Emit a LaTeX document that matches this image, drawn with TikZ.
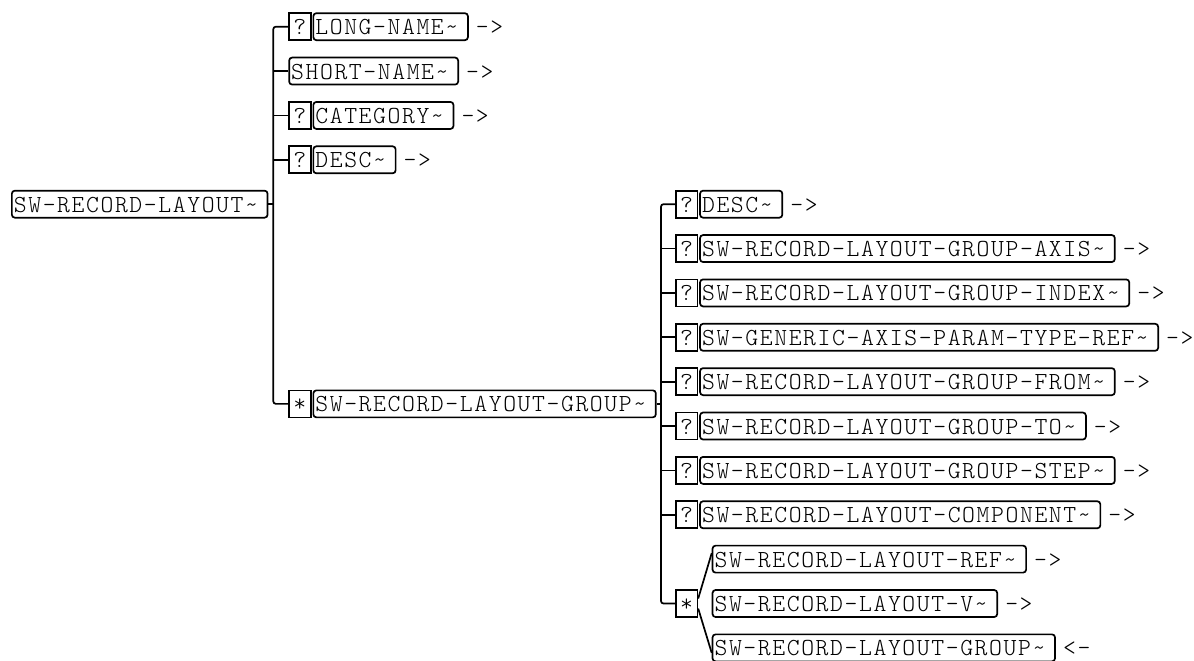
\documentclass[tikz,border=0pt]{standalone}
\usepackage{fontspec}
\newfontfamily\elemfam{lmmonolt10-regular.otf}[LetterSpace=6.5]
\usetikzlibrary{positioning}

\newcommand\elemfont{\elemfam\fontsize{24.5pt}{25pt}\selectfont}
\newcommand\nm[1]{#1\textasciitilde\hspace{7.6pt}\null}

\tikzset{
  elem/.style={draw, line width=1.7pt, rounded corners=3pt, inner xsep=2pt, inner ysep=3pt,
    text height=18.5pt, text depth=2.5pt, font=\elemfont},
  occ/.style={draw, line width=1.7pt, inner sep=0pt, minimum width=21.5pt, minimum height=27pt,
    text height=18.5pt, text depth=2.5pt, font=\elemfont, anchor=west},
  dir/.style={font=\elemfont, inner sep=0pt, text height=18.5pt, text depth=2.5pt},
  bus/.style={line width=1.7pt, rounded corners=2.5pt}
}

\begin{document}
\begin{tikzpicture}[x=1pt, y=-1pt]
\useasboundingbox (0,0) rectangle (1194,661);

% SW-RECORD-LAYOUT and its children
\node[elem, anchor=west] (root) at (11,204.18) {\nm{SW-RECORD-LAYOUT}};

\node[occ] (longq) at (288.3,26.7) {?};
\node[elem, right=1pt of longq] (longname) {\nm{LONG-NAME}};
\node[dir, right=7pt of longname] (longdir) {->};

\node[elem, anchor=west] (shortname) at (288.3,71.07) {\nm{SHORT-NAME}};
\node[dir, right=7pt of shortname] (shortdir) {->};

\node[occ] (catq) at (288.3,115.44) {?};
\node[elem, right=1pt of catq] (category) {\nm{CATEGORY}};
\node[dir, right=7pt of category] (catdir) {->};

\node[occ] (descq) at (288.3,159.81) {?};
\node[elem, right=1pt of descq] (desc) {\nm{DESC}};
\node[dir, right=7pt of desc] (descdir) {->};

\node[occ] (grpq) at (288.3,403.85) {*};
\node[elem, right=1pt of grpq] (group) {\nm{SW-RECORD-LAYOUT-GROUP}};

\coordinate (lbus) at (273.3,0);
\draw[bus] (longq.west) -| (lbus |- grpq.west) -- (grpq.west);
\draw[bus] (root.east) -- (lbus |- root.east);
\draw[bus] (lbus |- shortname.west) -- (shortname.west);
\draw[bus] (lbus |- catq.west) -- (catq.west);
\draw[bus] (lbus |- descq.west) -- (descq.west);

% SW-RECORD-LAYOUT-GROUP and its children
\node[occ] (gdescq) at (675,204.18) {?};
\node[elem, right=1pt of gdescq] (gdesc) {\nm{DESC}};
\node[dir, right=7pt of gdesc] (gdescdir) {->};

\node[occ] (axisq) at (675,248.55) {?};
\node[elem, right=1pt of axisq] (axis) {\nm{SW-RECORD-LAYOUT-GROUP-AXIS}};
\node[dir, right=7pt of axis] (axisdir) {->};

\node[occ] (indexq) at (675,292.92) {?};
\node[elem, right=1pt of indexq] (index) {\nm{SW-RECORD-LAYOUT-GROUP-INDEX}};
\node[dir, right=7pt of index] (indexdir) {->};

\node[occ] (genq) at (675,337.29) {?};
\node[elem, right=1pt of genq] (generic) {\nm{SW-GENERIC-AXIS-PARAM-TYPE-REF}};
\node[dir, right=7pt of generic] (gendir) {->};

\node[occ] (fromq) at (675,381.66) {?};
\node[elem, right=1pt of fromq] (gfrom) {\nm{SW-RECORD-LAYOUT-GROUP-FROM}};
\node[dir, right=7pt of gfrom] (fromdir) {->};

\node[occ] (toq) at (675,426.03) {?};
\node[elem, right=1pt of toq] (gto) {\nm{SW-RECORD-LAYOUT-GROUP-TO}};
\node[dir, right=7pt of gto] (todir) {->};

\node[occ] (stepq) at (675,470.4) {?};
\node[elem, right=1pt of stepq] (gstep) {\nm{SW-RECORD-LAYOUT-GROUP-STEP}};
\node[dir, right=7pt of gstep] (stepdir) {->};

\node[occ] (compq) at (675,514.77) {?};
\node[elem, right=1pt of compq] (comp) {\nm{SW-RECORD-LAYOUT-COMPONENT}};
\node[dir, right=7pt of comp] (compdir) {->};

\node[occ] (starq) at (675,603.51) {*};
\node[elem, anchor=west] (layref) at (711.7,559.14) {\nm{SW-RECORD-LAYOUT-REF}};
\node[dir, right=7pt of layref] (layrefdir) {->};
\node[elem, anchor=west] (layv) at (711.7,603.51) {\nm{SW-RECORD-LAYOUT-V}};
\node[dir, right=7pt of layv] (layvdir) {->};
\node[elem, anchor=west] (laygrp) at (711.7,647.88) {\nm{SW-RECORD-LAYOUT-GROUP}};
\node[dir, right=7pt of laygrp] (laygrpdir) {<-};

\coordinate (rbus) at (661,0);
\draw[bus] (gdescq.west) -| (rbus |- starq.west) -- (starq.west);
\draw[bus] (group.east) -- (rbus |- group.east);
\draw[bus] (rbus |- axisq.west) -- (axisq.west);
\draw[bus] (rbus |- indexq.west) -- (indexq.west);
\draw[bus] (rbus |- genq.west) -- (genq.west);
\draw[bus] (rbus |- fromq.west) -- (fromq.west);
\draw[bus] (rbus |- toq.west) -- (toq.west);
\draw[bus] (rbus |- stepq.west) -- (stepq.west);
\draw[bus] (rbus |- compq.west) -- (compq.west);

% choice
\draw[line width=1.7pt] ([yshift=5pt]starq.east) -- ([yshift=6pt]layref.west);
\draw[line width=1.7pt] ([yshift=-5pt]starq.east) -- ([yshift=-5pt]laygrp.west);
\end{tikzpicture}
\end{document}
